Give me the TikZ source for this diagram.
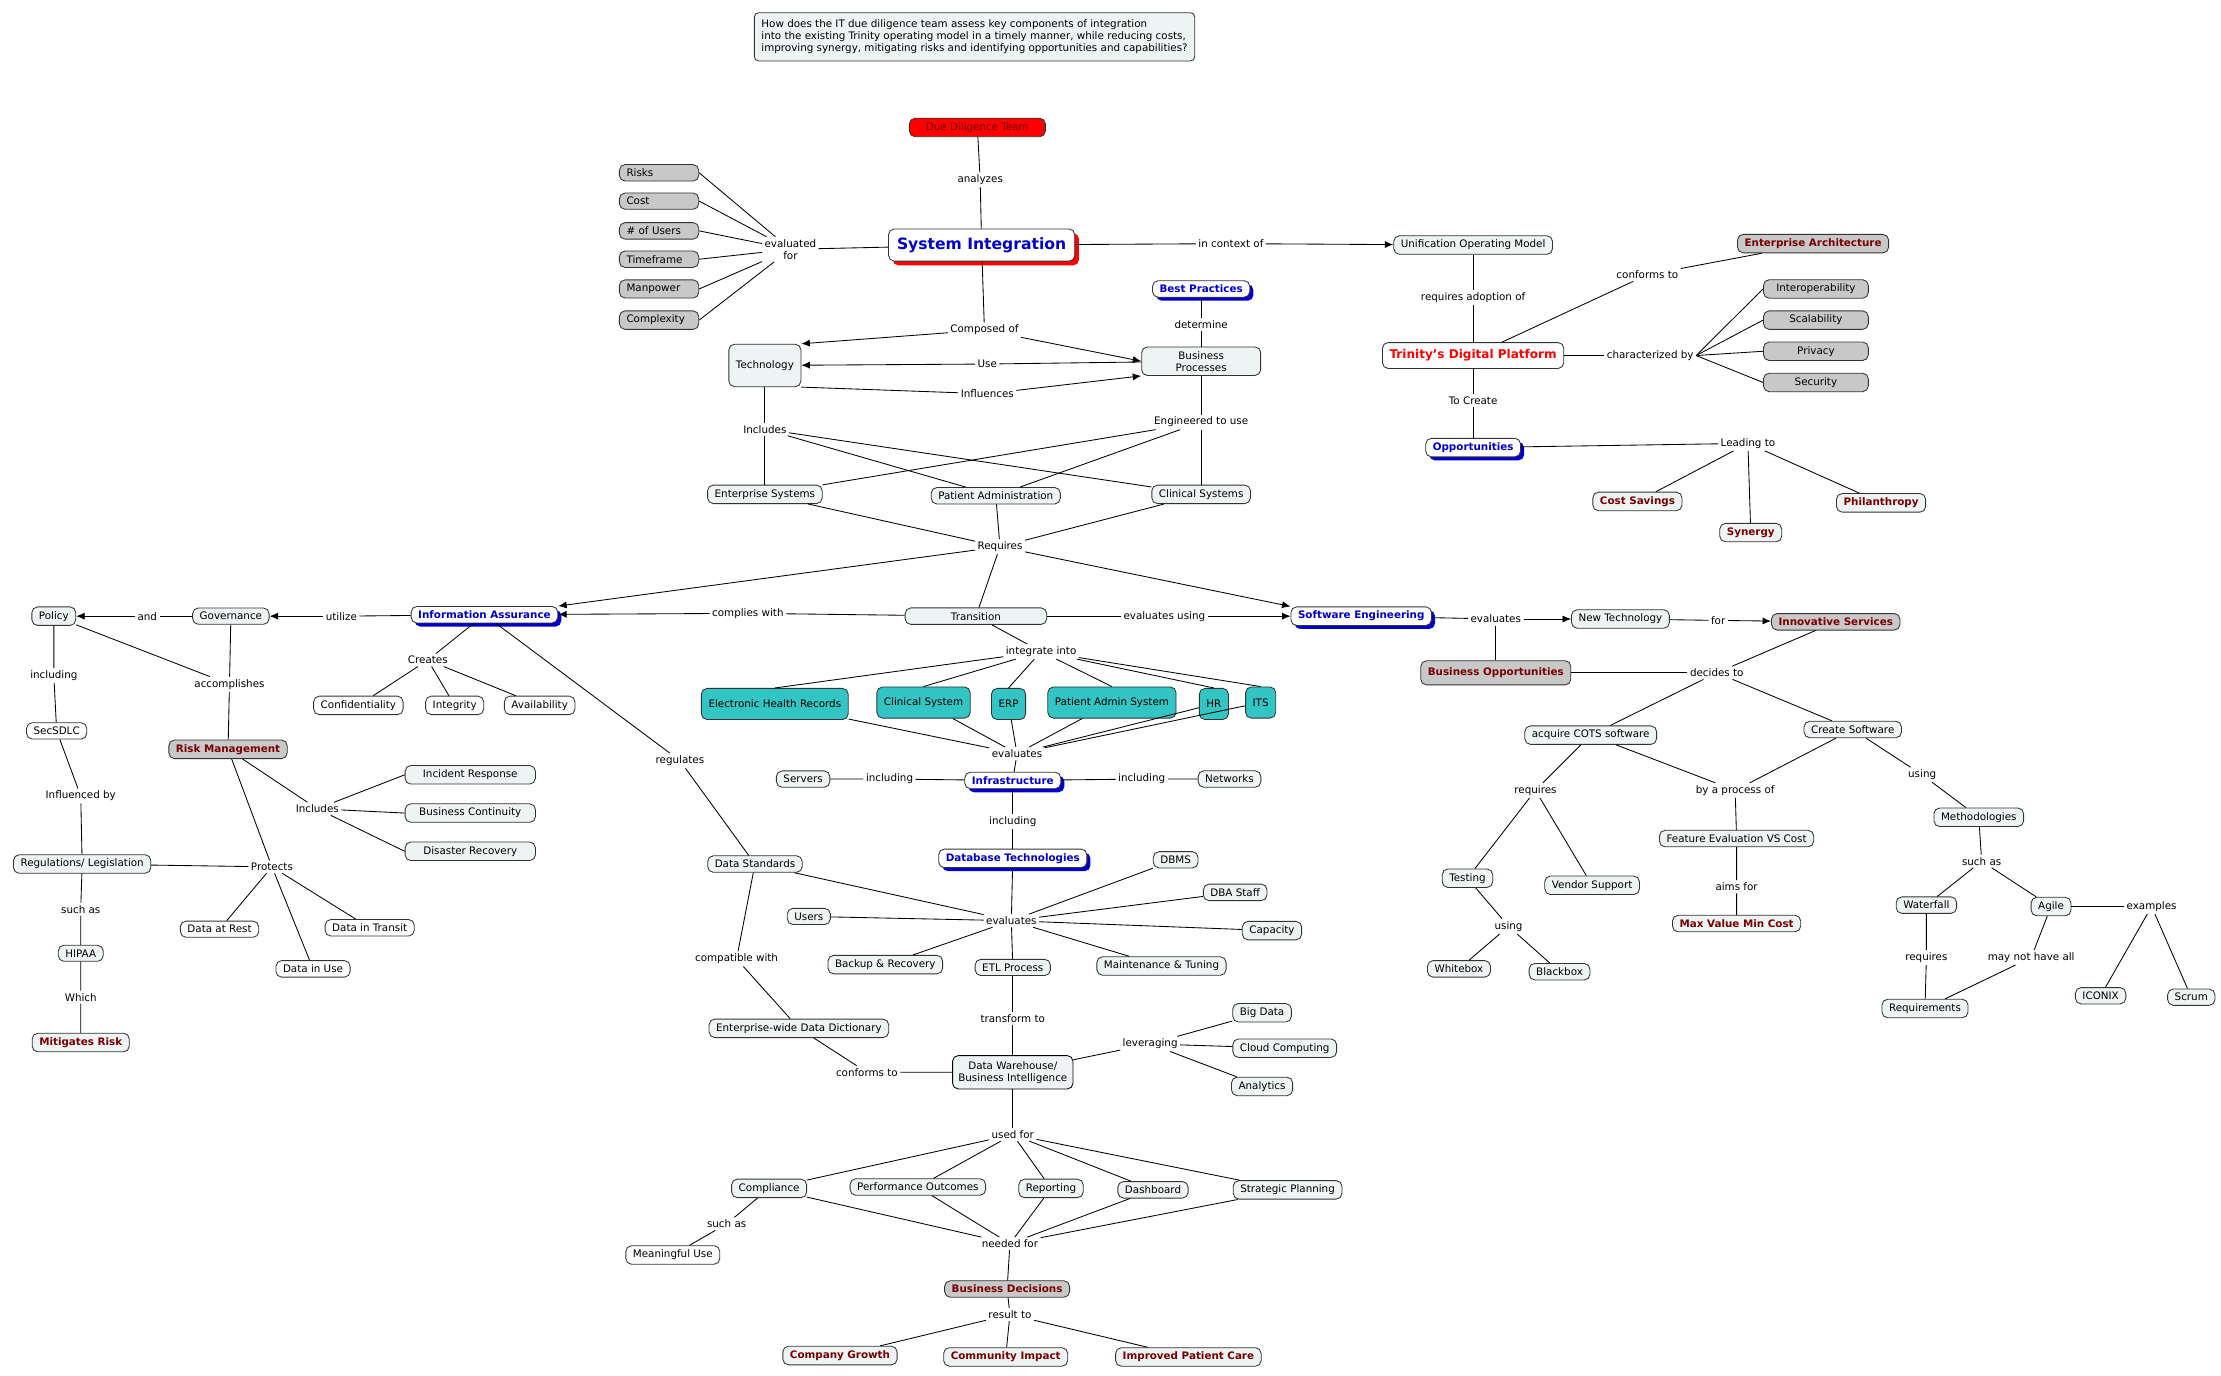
\documentclass[tikz,border=0pt]{standalone}
\usepackage{fontspec}
\setmainfont{DejaVu Sans}
\usetikzlibrary{shadows,arrows.meta}
\definecolor{bgc}{HTML}{EEF3F4}
\definecolor{gr}{HTML}{C8C8C8}
\definecolor{tl}{HTML}{33C4C4}
\definecolor{dred}{HTML}{7A0000}
\definecolor{bl}{HTML}{0000CC}
\newcommand{\fs}{\fontsize{7.3}{8.5}\selectfont}
\begin{document}
\begin{tikzpicture}[x=1pt,y=-1pt,
 box/.style={draw=black!80,rounded corners=4pt,fill=bgc,inner xsep=5pt,inner ysep=3pt,font=\fs},
 wbox/.style={box,fill=white},
 gbox/.style={box,fill=gr},
 tbox/.style={box,fill=tl,minimum height=22pt},
 dr/.style={box,text=dred,font=\fs\bfseries},
 gdr/.style={dr,fill=gr},
 bb/.style={box,fill=white,text=bl,font=\fs\bfseries,drop shadow={fill=bl,shadow xshift=2.5pt,shadow yshift=-2.5pt,opacity=1}},
 lab/.style={font=\fs,inner sep=1.5pt},
 ar/.style={-{Latex[length=6pt,width=5pt]}},
 every path/.style={line width=0.6pt}]
\useasboundingbox (0,0) rectangle (1568,971);
% top
\node[box,align=left,rounded corners=3pt,inner sep=5pt] (q) at (688,26) {How does the IT due diligence team assess key components of integration\\into the existing Trinity operating model in a timely manner, while reducing costs,\\improving synergy, mitigating risks and identifying opportunities and capabilities?};
\node[box,fill=red,text=black!60!red,minimum width=96pt] (ddt) at (690,90) {Due Diligence Team};
\node[lab] (an) at (692,127) {analyzes};
\node[box,fill=white,text=bl,font=\fontsize{11}{12}\selectfont\bfseries,inner sep=6pt,drop shadow={fill=red,shadow xshift=3pt,shadow yshift=-3pt,opacity=1}] (si) at (693,173) {System Integration};
\node[lab,align=center] (ef) at (558,176) {evaluated\\for};
\foreach \n/\t/\y in {risks/Risks/122,cost/Cost/142,users/\# of Users/163,tf/Timeframe/183,mp/Manpower/204,cx/Complexity/226}
  {\node[gbox,minimum width=56pt,anchor=west,text width=46pt] (\n) at (437,\y) {\t}; \draw (\n.east) -- (ef);}
\draw (ddt) -- (an) -- (si); \draw (si) -- (ef);
\node[lab] (ico) at (869,172) {in context of};
\node[box] (uom) at (1040,173) {Unification Operating Model};
\draw (si) -- (ico); \draw[ar] (ico) -- (uom);
\node[gdr] (ea) at (1280,172) {Enterprise Architecture};
\node[lab] (conf) at (1163,194) {conforms to};
\node[lab] (req) at (1040,210) {requires adoption of};
\node[wbox,text=red,font=\fontsize{8.5}{10}\selectfont\bfseries,inner sep=5pt] (tdp) at (1040,251) {Trinity's Digital Platform};
\draw (uom) -- (req) -- (tdp); \draw (tdp) -- (conf) -- (ea);
\node[lab] (cb) at (1165,251) {characterized by};
\draw (tdp) -- (cb);
\foreach \n/\t/\y in {io/Interoperability/204,sc/Scalability/226,pr/Privacy/248,se/Security/270}
  {\node[gbox,minimum width=74pt] (\n) at (1282,\y) {\t}; \draw (cb.east) -- (\n.west);}
\node[lab] (tc) at (1040,283) {To Create};
\node[bb] (opp) at (1040,316) {Opportunities};
\draw (tdp) -- (tc) -- (opp);
\node[lab] (lt) at (1234,313) {Leading to};
\draw (opp) -- (lt);
\node[dr] (cs) at (1156,354) {Cost Savings};
\node[dr] (syn) at (1236,376) {Synergy};
\node[dr] (ph) at (1328,355) {Philanthropy};
\foreach \n in {cs,syn,ph} \draw (lt) -- (\n);
% business/tech
\node[bb] (bp) at (848,204) {Best Practices};
\node[lab] (det) at (848,229) {determine};
\node[box,align=center,minimum width=84pt] (bpr) at (848,255) {Business\\Processes};
\draw (bp) -- (det) -- (bpr);
\node[box,minimum height=30pt] (tech) at (540,258) {Technology};
\node[lab] (co) at (695,233) {Composed of};
\node[lab] (use) at (697,257) {Use};
\node[lab] (inf) at (697,278) {Influences};
\draw (si) -- (co); \draw[ar] (co) -- (tech.north east); \draw[ar] (co) -- (bpr.west);
\draw (bpr) -- (use); \draw[ar] (use) -- (tech);
\draw (tech.south east) -- (inf); \draw[ar] (inf) -- (bpr.south west);
\node[lab] (incl) at (540,303) {Includes};
\node[lab] (eng) at (848,298) {Engineered to use};
\node[box] (es) at (540,349) {Enterprise Systems};
\node[box] (pa) at (703,350) {Patient Administration};
\node[box] (cls) at (848,349) {Clinical Systems};
\draw (tech) -- (incl); \draw (bpr) -- (eng);
\foreach \n in {es,pa,cls} {\draw (incl) -- (\n); \draw (eng) -- (\n);}
\node[lab] (reqs) at (706,386) {Requires};
\foreach \n in {es,pa,cls} \draw (\n) -- (reqs);
\node[bb] (ia) at (342,434) {Information Assurance};
\node[box,minimum width=100pt] (tr) at (689,435) {Transition};
\node[bb] (swe) at (961,435) {Software Engineering};
\draw[ar] (reqs) -- (ia.north east); \draw[ar] (reqs) -- (swe.north west); \draw (reqs) -- (tr);
\node[lab] (cw) at (528,433) {complies with};
\node[lab] (eu) at (822,435) {evaluates using};
\draw (tr) -- (cw); \draw[ar] (cw) -- (ia); \draw (tr) -- (eu); \draw[ar] (eu) -- (swe);
% left
\node[lab] (ut) at (241,435) {utilize};
\node[box] (gov) at (163,435) {Governance};
\node[lab] (and) at (104,435) {and};
\node[box] (pol) at (38,435) {Policy};
\draw (ia) -- (ut); \draw[ar] (ut) -- (gov); \draw (gov) -- (and); \draw[ar] (and) -- (pol);
\node[lab] (inc1) at (38,477) {including};
\node[wbox] (sdl) at (40,516) {SecSDLC};
\node[lab] (infl) at (57,562) {Influenced by};
\node[box] (reg) at (58,610) {Regulations/ Legislation};
\node[lab] (such1) at (57,642) {such as};
\node[box] (hipaa) at (57,673) {HIPAA};
\node[lab] (which) at (57,704) {Which};
\node[dr] (mr) at (57,736) {Mitigates Risk};
\draw (pol) -- (inc1) -- (sdl) -- (infl) -- (reg) -- (such1) -- (hipaa) -- (which) -- (mr);
\node[lab] (acc) at (162,483) {accomplishes};
\node[gdr] (rm) at (161,529) {Risk Management};
\draw (pol) -- (acc); \draw (gov) -- (acc) -- (rm);
\node[lab] (inc2) at (224,571) {Includes};
\draw (rm) -- (inc2);
\foreach \n/\t/\y in {ir/Incident Response/547,bc/Business Continuity/574,drc/Disaster Recovery/601}
  {\node[box,minimum width=92pt] (\n) at (332,\y) {\t}; \draw (inc2) -- (\n.west);}
\node[lab] (prot) at (192,612) {Protects};
\draw (reg) -- (prot); \draw (rm) -- (prot);
\node[wbox] (dar) at (155,656) {Data at Rest};
\node[wbox] (dit) at (261,655) {Data in Transit};
\node[wbox] (diu) at (221,684) {Data in Use};
\foreach \n in {dar,dit,diu} \draw (prot) -- (\n);
\node[lab] (crt) at (302,466) {Creates};
\draw (ia) -- (crt);
\node[wbox] (cnf) at (253,498) {Confidentiality};
\node[wbox] (integ) at (321,498) {Integrity};
\node[wbox] (avail) at (381,498) {Availability};
\foreach \n in {cnf,integ,avail} \draw (crt) -- (\n);
\node[lab] (regs) at (480,537) {regulates};
\node[box] (ds) at (533,610) {Data Standards};
\draw (ia) -- (regs) -- (ds);
% middle
\node[lab] (ii) at (735,460) {integrate into};
\draw (tr) -- (ii);
\node[tbox] (ehr) at (547,497) {Electronic Health Records};
\node[tbox] (csys) at (652,496) {Clinical System};
\node[tbox] (erp) at (712,497) {ERP};
\node[tbox] (pas) at (785,496) {Patient Admin System};
\node[tbox] (hr) at (857,497) {HR};
\node[tbox] (its) at (890,496) {ITS};
\node[lab] (ev1) at (718,532) {evaluates};
\foreach \n in {ehr,csys,erp,pas,hr,its} {\draw (ii) -- (\n.north); \draw (\n) -- (ev1);}
\node[bb] (infra) at (715,551) {Infrastructure};
\draw (ev1) -- (infra);
\node[lab] (inl) at (628,550) {including};
\node[box] (serv) at (567,550) {Servers};
\node[lab] (inr) at (806,550) {including};
\node[box] (net) at (868,550) {Networks};
\draw (infra) -- (inl) -- (serv); \draw (infra) -- (inr) -- (net);
\node[lab] (inc3) at (715,580) {including};
\node[bb] (dbt) at (715,606) {Database Technologies};
\draw (infra) -- (inc3) -- (dbt);
\node[lab] (ev2) at (714,650) {evaluates};
\draw (dbt) -- (ev2); \draw (ds) -- (ev2);
\node[box] (dbms) at (830,607) {DBMS};
\node[box] (dba) at (872,630) {DBA Staff};
\node[box] (cap) at (898,657) {Capacity};
\node[box] (mt) at (820,682) {Maintenance \& Tuning};
\node[box] (etl) at (715,683) {ETL Process};
\node[box] (br) at (625,681) {Backup \& Recovery};
\node[box] (usr) at (571,647) {Users};
\foreach \n in {dbms,dba,cap,mt,etl,br,usr} \draw (ev2) -- (\n);
\node[lab] (cw2) at (520,677) {compatible with};
\node[box] (edd) at (564,726) {Enterprise-wide Data Dictionary};
\draw (ds) -- (cw2) -- (edd);
\node[lab] (tt) at (715,719) {transform to};
\node[box,align=center,inner sep=4pt,draw=black] (dw) at (715,757) {Data Warehouse/\\Business Intelligence};
\draw (etl) -- (tt) -- (dw);
\node[lab] (ct) at (612,757) {conforms to};
\draw (edd) -- (ct) -- (dw);
\node[lab] (lev) at (812,737) {leveraging};
\draw (dw) -- (lev);
\node[box] (bgd) at (891,715) {Big Data};
\node[box] (cc) at (907,740) {Cloud Computing};
\node[box] (ana) at (891,767) {Analytics};
\foreach \n in {bgd,cc,ana} \draw (lev) -- (\n);
\node[lab] (uf) at (715,801) {used for};
\draw (dw) -- (uf);
\node[box] (comp) at (543,839) {Compliance};
\node[box] (po) at (648,838) {Performance Outcomes};
\node[box] (rep) at (742,839) {Reporting};
\node[box] (dash) at (814,840) {Dashboard};
\node[box] (sp) at (909,840) {Strategic Planning};
\node[lab] (nf) at (713,878) {needed for};
\foreach \n in {comp,po,rep,dash,sp} {\draw (uf) -- (\n); \draw (\n) -- (nf);}
\node[lab] (sa) at (513,864) {such as};
\node[wbox] (mu) at (475,886) {Meaningful Use};
\draw (comp) -- (sa) -- (mu);
\node[gdr] (bdec) at (711,910) {Business Decisions};
\node[lab] (rt) at (713,928) {result to};
\draw (nf) -- (bdec) -- (rt);
\node[dr] (cg) at (593,957) {Company Growth};
\node[dr] (ci) at (710,958) {Community Impact};
\node[dr] (ipc) at (839,958) {Improved Patient Care};
\foreach \n in {cg,ci,ipc} \draw (rt) -- (\n);
% right
\node[lab] (ev3) at (1056,437) {evaluates};
\node[box] (nt) at (1144,437) {New Technology};
\node[lab] (for) at (1213,438) {for};
\node[gdr] (is) at (1296,439) {Innovative Services};
\draw (swe) -- (ev3); \draw[ar] (ev3) -- (nt); \draw (nt) -- (for); \draw[ar] (for) -- (is);
\node[gdr,inner sep=5pt] (bo) at (1056,475) {Business Opportunities};
\draw (ev3) -- (bo);
\node[lab] (dt) at (1212,475) {decides to};
\draw (bo) -- (dt); \draw (is) -- (dt);
\node[box] (cots) at (1123,519) {acquire COTS software};
\node[box] (crs) at (1308,515) {Create Software};
\draw (dt) -- (cots); \draw (dt) -- (crs);
\node[lab] (rq) at (1084,558) {requires};
\node[box] (test) at (1036,620) {Testing};
\node[box] (vs) at (1124,625) {Vendor Support};
\draw (cots) -- (rq); \draw (rq) -- (test); \draw (rq) -- (vs);
\node[lab] (usg) at (1065,654) {using};
\node[box] (wb) at (1030,684) {Whitebox};
\node[box] (blb) at (1101,686) {Blackbox};
\draw (test) -- (usg); \draw (usg) -- (wb); \draw (usg) -- (blb);
\node[lab] (bpo) at (1225,558) {by a process of};
\draw (cots) -- (bpo); \draw (crs) -- (bpo);
\node[box] (fe) at (1226,592) {Feature Evaluation VS Cost};
\node[lab] (aim) at (1226,626) {aims for};
\node[dr] (mvmc) at (1226,652) {Max Value Min Cost};
\draw (bpo) -- (fe) -- (aim) -- (mvmc);
\node[lab] (usg2) at (1357,547) {using};
\node[box] (meth) at (1397,577) {Methodologies};
\draw (crs) -- (usg2) -- (meth);
\node[lab] (sa2) at (1399,608) {such as};
\node[box] (wf) at (1360,639) {Waterfall};
\node[box] (ag) at (1448,640) {Agile};
\draw (meth) -- (sa2); \draw (sa2) -- (wf); \draw (sa2) -- (ag);
\node[lab] (rq2) at (1360,676) {requires};
\node[box] (reqm) at (1359,712) {Requirements};
\node[lab] (mnh) at (1434,676) {may not have all};
\draw (wf) -- (rq2) -- (reqm); \draw (ag) -- (mnh) -- (reqm);
\node[lab] (ex) at (1519,640) {examples};
\node[box] (icon) at (1483,703) {ICONIX};
\node[box] (scrum) at (1547,704) {Scrum};
\draw (ag) -- (ex); \draw (ex) -- (icon); \draw (ex) -- (scrum);
\end{tikzpicture}
\end{document}
